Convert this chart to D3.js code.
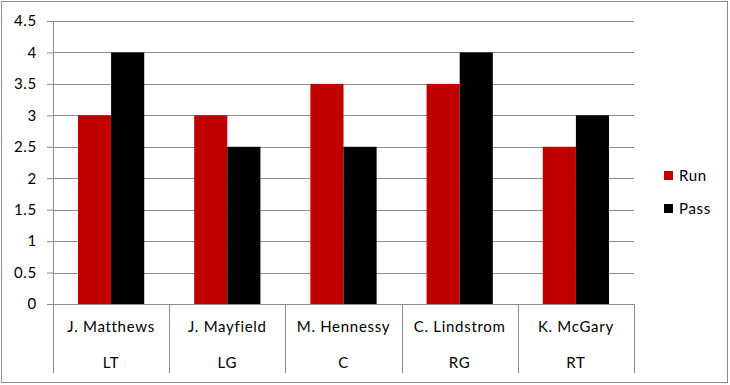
<!DOCTYPE html>
<html>
<head>
<meta charset="utf-8">
<script src="https://cdn.jsdelivr.net/npm/d3@7"></script>
<style>
body { margin: 0; background: #fff; }
text { font-family: Lato, "Open Sans", sans-serif; fill: #000; letter-spacing: 0.7px; }
</style>
</head>
<body>
<div id="chart"></div>
<script>
var players = ["J. Matthews", "J. Mayfield", "M. Hennessy", "C. Lindstrom", "K. McGary"];
var positions = ["LT", "LG", "C", "RG", "RT"];
var seriesNames = ["Run", "Pass"];
var runValues = [3, 3, 3.5, 3.5, 2.5];
var passValues = [4, 2.5, 2.5, 4, 3];
var yTicks = [0, 0.5, 1, 1.5, 2, 2.5, 3, 3.5, 4, 4.5];
var colors = ["#c00000", "#000000"];

var width = 730, height = 385;
var marge = {top: 21, left: 53, right: 96, bottom: 81};
var innerW = width - marge.left - marge.right;
var innerH = height - marge.top - marge.bottom;

var svg = d3.select("#chart").append("svg")
  .attr("width", width).attr("height", height);

svg.append("rect")
  .attr("x", 1.5).attr("y", 1.5)
  .attr("width", 726).attr("height", 381)
  .attr("fill", "#fff").attr("stroke", "#8c8c8c");

var g = svg.append("g")
  .attr("transform", "translate(" + marge.left + "," + marge.top + ")");

var x0 = d3.scaleBand().domain(players).range([0, innerW]).paddingInner(0).paddingOuter(0);
var x1 = d3.scaleBand().domain(seriesNames).range([x0.bandwidth() * 0.215, x0.bandwidth() * 0.785]);
var y = d3.scaleLinear().domain([0, 4.5]).range([innerH, 0]);

// gridlines
g.append("g").selectAll("line")
  .data(yTicks.filter(function(d){ return d > 0; }))
  .enter().append("line")
  .attr("x1", 0).attr("x2", innerW)
  .attr("y1", function(d){ return Math.round(y(d)) + 0.5; })
  .attr("y2", function(d){ return Math.round(y(d)) + 0.5; })
  .attr("stroke", "#8c8c8c");

// y axis
var yAxis = d3.axisLeft(y).tickValues(yTicks).tickSize(6).tickPadding(10)
  .tickFormat(function(d){ return String(d); });
var ya = g.append("g").call(yAxis);
ya.select(".domain").attr("stroke", "#8c8c8c");
ya.selectAll(".tick line").attr("stroke", "#8c8c8c");
ya.selectAll("text").style("font-size", "15px").attr("fill", "#000");

// bars
var gs = g.selectAll(".cat")
  .data(players)
  .enter().append("g")
  .attr("transform", function(d){ return "translate(" + x0(d) + ",0)"; });

gs.selectAll("rect")
  .data(function(d, i){ return [runValues[i], passValues[i]]; })
  .enter().append("rect")
  .attr("x", function(d, j){ return x1(seriesNames[j]); })
  .attr("width", x1.bandwidth())
  .attr("y", function(d){ return y(d); })
  .attr("height", function(d){ return innerH - y(d); })
  .attr("fill", function(d, j){ return colors[j]; });

// x axis with two-level labels
var xa = g.append("g").attr("transform", "translate(0," + innerH + ")");
xa.append("line").attr("x1", 0).attr("x2", innerW)
  .attr("y1", 0.5).attr("y2", 0.5).attr("stroke", "#8c8c8c");
var bounds = players.map(function(d){ return x0(d); }).concat([innerW]);
xa.selectAll(".sep").data(bounds).enter().append("line")
  .attr("x1", function(d){ return Math.round(d) + 0.5; })
  .attr("x2", function(d){ return Math.round(d) + 0.5; })
  .attr("y1", 0).attr("y2", 69)
  .attr("stroke", "#8c8c8c");
xa.selectAll(".name").data(players).enter().append("text")
  .attr("x", function(d){ return x0(d) + x0.bandwidth() / 2; })
  .attr("y", 28)
  .attr("text-anchor", "middle")
  .style("font-size", "15px")
  .text(function(d){ return d; });
xa.selectAll(".pos").data(positions).enter().append("text")
  .attr("x", function(d, i){ return x0(players[i]) + x0.bandwidth() / 2; })
  .attr("y", 64)
  .attr("text-anchor", "middle")
  .style("font-size", "15px")
  .text(function(d){ return d; });

// legend
var legend = svg.append("g").attr("transform", "translate(664,171)");
var li = legend.selectAll("g").data(seriesNames).enter().append("g")
  .attr("transform", function(d, i){ return "translate(0," + (i * 33) + ")"; });
li.append("rect").attr("width", 9).attr("height", 9)
  .attr("fill", function(d, i){ return colors[i]; });
li.append("text").attr("x", 15).attr("y", 10)
  .style("font-size", "15px")
  .text(function(d){ return d; });
</script>
</body>
</html>
